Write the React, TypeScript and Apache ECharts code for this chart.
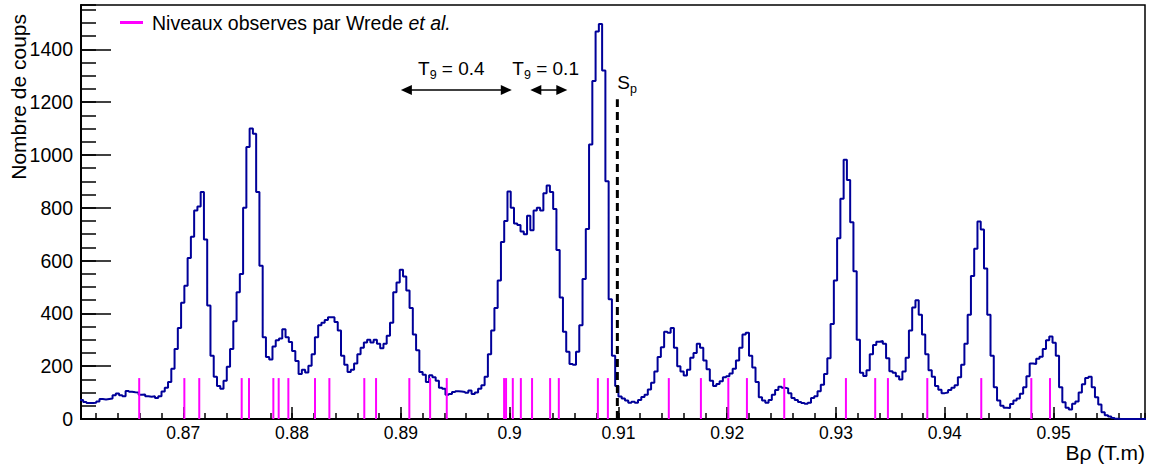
import React, { useEffect, useRef } from "react";
import * as echarts from "echarts";

// ---- data -----------------------------------------------------------
const BIN_START = 0.8605;
const BIN_WIDTH = 0.0003;
const COUNTS = [
  72, 64, 61, 61, 62, 66, 76, 74, 76, 78,
  90, 97, 90, 86, 106, 103, 101, 100, 92, 93,
  86, 84, 86, 80, 86, 104, 118, 140, 190, 265,
  345, 440, 505, 610, 690, 790, 805, 860, 680, 430,
  240, 160, 125, 115, 145, 198, 265, 370, 480, 549,
  800, 1030, 1100, 1080, 860, 580, 310, 235, 225, 275,
  298, 305, 340, 310, 292, 258, 220, 170, 187, 176,
  202, 245, 310, 355, 365, 375, 385, 385, 367, 335,
  240, 205, 178, 187, 210, 245, 270, 290, 300, 290,
  300, 285, 268, 285, 315, 365, 480, 517, 565, 540,
  487, 420, 320, 260, 178, 168, 140, 166, 158, 145,
  118, 115, 92, 95, 102, 105, 104, 102, 99, 108,
  95, 100, 115, 128, 160, 245, 335, 420, 525, 670,
  750, 862, 800, 740, 735, 710, 700, 770, 715, 790,
  800, 790, 855, 884, 860, 795, 640, 460, 330, 255,
  208, 205, 255, 355, 530, 720, 1040, 1280, 1468, 1496,
  1320, 900, 454, 240, 125, 85, 78, 70, 62, 65,
  62, 72, 83, 92, 112, 137, 180, 235, 272, 330,
  327, 345, 270, 200, 180, 165, 187, 232, 250, 285,
  270, 222, 188, 145, 125, 133, 143, 158, 162, 172,
  190, 222, 270, 320, 327, 240, 195, 140, 82, 70,
  62, 72, 92, 110, 122, 118, 116, 98, 80, 72,
  64, 61, 58, 62, 80, 86, 105, 130, 170, 230,
  360, 525, 685, 834, 982, 905, 745, 560, 300, 175,
  163, 185, 245, 280, 293, 295, 285, 230, 181, 175,
  162, 150, 180, 232, 335, 422, 450, 395, 320, 245,
  185, 160, 125, 111, 98, 100, 110, 118, 128, 158,
  205, 285, 395, 542, 645, 748, 718, 570, 395, 240,
  120, 70, 50, 43, 42, 57, 70, 78, 96, 120,
  162, 210, 208, 228, 236, 265, 298, 312, 289, 240,
  120, 63, 43, 36, 58, 66, 100, 132, 155, 160,
  120, 82, 55, 26, 14, 9, 4, 1, 0, 0,
  0, 0, 0, 0, 0, 0, 0,
];
const LEVELS = [
  0.86595, 0.8701, 0.87147, 0.87537, 0.87604, 0.87828, 0.87877, 0.87966,
  0.88211, 0.88343, 0.88664, 0.88772, 0.89078, 0.89269, 0.89422, 0.89949,
  0.89967, 0.90029, 0.90103, 0.90206, 0.90372, 0.90452, 0.90811, 0.90903,
  0.91463, 0.91758, 0.9201, 0.92181, 0.92524, 0.93091, 0.9336, 0.93477,
  0.93839, 0.94335, 0.94795, 0.94967,
];
const LEVEL_HEIGHT = 155;
const SP_X = 0.9099;
const SP_TOP = 1211;
const SP_LABEL_Y = 1276;
const ARROW_FROM = [0.89, 0.9019];
const ARROW_TO = [0.9002, 0.9053];
const ARROW_Y = 1246;
const T9_LABEL_X = [0.89464, 0.90331];
const T9_LABEL_Y = 1329;
const T9_VALUES = ["0.4", "0.1"];
const X_MIN = 0.8606;
const X_MAX = 0.9584;
const Y_MAX = 1568;
const X_TITLE = "B\u03c1 (T.m)";
const Y_TITLE = "Nombre de coups";
const LEGEND_TEXT = "Niveaux observes par Wrede ";
const LEGEND_ITALIC = "et al.";

// ---- styling ---------------------------------------------------------
const FONT = '"Liberation Sans", Arial, Helvetica, sans-serif';
const HIST_COLOR = "#000099";
const LEVEL_COLOR = "#ff00ff";
const ANNOT_SIZE = 19;
const SUB_SIZE = 12.5;

let measureCtx: CanvasRenderingContext2D | null = null;
function measure(text: string, size: number, style = "normal"): number {
  if (!measureCtx) {
    measureCtx = document.createElement("canvas").getContext("2d");
  }
  if (!measureCtx) return text.length * size * 0.55;
  measureCtx.font = `${style} ${size}px ${FONT}`;
  return measureCtx.measureText(text).width;
}

export default function App() {
  const ref = useRef<HTMLDivElement | null>(null);

  useEffect(() => {
    if (!ref.current) return;
    const chart = echarts.init(ref.current, null, { renderer: "svg" });

    const histData: number[][] = COUNTS.map((c, i) => [
      +(BIN_START + i * BIN_WIDTH).toFixed(6),
      c,
    ]);
    histData.push([
      +(BIN_START + COUNTS.length * BIN_WIDTH).toFixed(6),
      COUNTS[COUNTS.length - 1],
    ]);

    const option: any = {
      animation: false,
      backgroundColor: "#fff",
      grid: {
        left: 81,
        right: 5,
        top: 5,
        bottom: 47,
        show: true,
        borderColor: "#000",
        borderWidth: 1.5,
        backgroundColor: "transparent",
      },
      xAxis: [
        {
          type: "value",
          min: X_MIN,
          max: X_MAX,
          splitNumber: 10,
          position: "bottom",
          axisLine: { show: true, onZero: false, lineStyle: { color: "#000", width: 2 } },
          axisTick: { show: true, inside: true, length: 12, lineStyle: { color: "#000", width: 1.5 } },
          axisLabel: {
            color: "#000",
            fontFamily: FONT,
            fontSize: 17.5,
            margin: 5,
            showMinLabel: false,
            showMaxLabel: false,
            formatter: (v: number) => parseFloat(v.toFixed(4)).toString(),
          },
          splitLine: { show: false },
        },
        {
          type: "value",
          min: X_MIN,
          max: X_MAX,
          splitNumber: 50,
          position: "bottom",
          axisLine: { show: false, onZero: false },
          axisTick: { show: true, inside: true, length: 6, lineStyle: { color: "#000", width: 1.5 } },
          axisLabel: { show: false },
          splitLine: { show: false },
        },
      ],
      yAxis: [
        {
          type: "value",
          min: 0,
          max: Y_MAX,
          interval: 200,
          position: "left",
          axisLine: { show: true, onZero: false, lineStyle: { color: "#000", width: 2 } },
          axisTick: { show: true, inside: true, length: 30, lineStyle: { color: "#000", width: 1.5 } },
          axisLabel: {
            color: "#000",
            fontFamily: FONT,
            fontSize: 19.5,
            margin: 8,
            showMaxLabel: false,
            formatter: (v: number) => String(Math.round(v)),
          },
          splitLine: { show: false },
        },
        {
          type: "value",
          min: 0,
          max: Y_MAX,
          interval: 50,
          position: "left",
          axisLine: { show: false, onZero: false },
          axisTick: { show: true, inside: true, length: 15, lineStyle: { color: "#000", width: 1.5 } },
          axisLabel: { show: false },
          splitLine: { show: false },
        },
      ],
      series: [
        {
          name: "hist",
          type: "line",
          xAxisIndex: 0,
          yAxisIndex: 0,
          data: histData,
          step: "end",
          showSymbol: false,
          symbol: "none",
          silent: true,
          z: 2,
          lineStyle: { color: HIST_COLOR, width: 2 },
        },
        {
          name: "levels",
          type: "custom",
          xAxisIndex: 0,
          yAxisIndex: 0,
          z: 3,
          silent: true,
          data: LEVELS.map((x) => [x, LEVEL_HEIGHT]),
          renderItem: (params: any, api: any) => {
            const p0 = api.coord([api.value(0), 0]);
            const p1 = api.coord([api.value(0), api.value(1)]);
            return {
              type: "line",
              shape: { x1: p0[0], y1: p0[1], x2: p1[0], y2: p1[1] },
              style: { stroke: LEVEL_COLOR, lineWidth: 2 },
            };
          },
        },
        {
          name: "sp",
          type: "custom",
          xAxisIndex: 0,
          yAxisIndex: 0,
          z: 4,
          silent: true,
          data: [[SP_X, SP_TOP, SP_LABEL_Y]],
          renderItem: (params: any, api: any) => {
            const p0 = api.coord([api.value(0), 0]);
            const p1 = api.coord([api.value(0), api.value(1)]);
            const pl = api.coord([api.value(0), api.value(2)]);
            const wS = measure("S", ANNOT_SIZE);
            return {
              type: "group",
              children: [
                {
                  type: "line",
                  shape: { x1: p0[0], y1: p0[1], x2: p1[0], y2: p1[1] },
                  style: { stroke: "#000", lineWidth: 3, lineDash: [8, 5] },
                },
                {
                  type: "text",
                  x: pl[0],
                  y: pl[1],
                  style: {
                    text: "S",
                    fontFamily: FONT,
                    fontSize: ANNOT_SIZE,
                    fill: "#000",
                    align: "left",
                    verticalAlign: "middle",
                  },
                },
                {
                  type: "text",
                  x: pl[0] + wS,
                  y: pl[1] + 7,
                  style: {
                    text: "p",
                    fontFamily: FONT,
                    fontSize: SUB_SIZE,
                    fill: "#000",
                    align: "left",
                    verticalAlign: "middle",
                  },
                },
              ],
            };
          },
        },
        {
          name: "arrows",
          type: "custom",
          xAxisIndex: 0,
          yAxisIndex: 0,
          z: 4,
          silent: true,
          data: ARROW_FROM.map((x, i) => [x, ARROW_TO[i], ARROW_Y]),
          renderItem: (params: any, api: any) => {
            const a = api.coord([api.value(0), api.value(2)]);
            const b = api.coord([api.value(1), api.value(2)]);
            const hl = 11;
            const hw = 5;
            const y = a[1];
            return {
              type: "group",
              children: [
                {
                  type: "line",
                  shape: { x1: a[0] + hl - 1, y1: y, x2: b[0] - hl + 1, y2: y },
                  style: { stroke: "#000", lineWidth: 1.5 },
                },
                {
                  type: "polygon",
                  shape: { points: [[a[0], y], [a[0] + hl, y - hw], [a[0] + hl, y + hw]] },
                  style: { fill: "#000" },
                },
                {
                  type: "polygon",
                  shape: { points: [[b[0], y], [b[0] - hl, y - hw], [b[0] - hl, y + hw]] },
                  style: { fill: "#000" },
                },
              ],
            };
          },
        },
        {
          name: "t9labels",
          type: "custom",
          xAxisIndex: 0,
          yAxisIndex: 0,
          z: 4,
          silent: true,
          data: T9_LABEL_X.map((x) => [x, T9_LABEL_Y]),
          renderItem: (params: any, api: any) => {
            const p = api.coord([api.value(0), api.value(1)]);
            const rest = " = " + T9_VALUES[params.dataIndex];
            const wT = measure("T", ANNOT_SIZE);
            const w9 = measure("9", SUB_SIZE);
            const wR = measure(rest, ANNOT_SIZE);
            const x0 = p[0] - (wT + w9 + wR) / 2;
            const base = { fontFamily: FONT, fill: "#000", align: "left", verticalAlign: "middle" };
            return {
              type: "group",
              children: [
                { type: "text", x: x0, y: p[1], style: { ...base, text: "T", fontSize: ANNOT_SIZE } },
                { type: "text", x: x0 + wT, y: p[1] + 7, style: { ...base, text: "9", fontSize: SUB_SIZE } },
                { type: "text", x: x0 + wT + w9, y: p[1], style: { ...base, text: rest, fontSize: ANNOT_SIZE } },
              ],
            };
          },
        },
      ],
      graphic: [
        {
          type: "line",
          shape: { x1: 120, y1: 22.5, x2: 143, y2: 22.5 },
          style: { stroke: LEVEL_COLOR, lineWidth: 3 },
          silent: true,
        },
        {
          type: "text",
          x: 152,
          y: 22.5,
          silent: true,
          style: {
            text: `{n|${LEGEND_TEXT}}{i|${LEGEND_ITALIC}}`,
            rich: {
              n: { fontFamily: FONT, fontSize: 19.5, fill: "#000" },
              i: { fontFamily: FONT, fontSize: 19.5, fontStyle: "italic", fill: "#000" },
            },
            align: "left",
            verticalAlign: "middle",
          },
        },
        {
          type: "text",
          x: 1145,
          y: 452,
          silent: true,
          style: {
            text: X_TITLE,
            fontFamily: FONT,
            fontSize: 21,
            fill: "#000",
            align: "right",
            verticalAlign: "middle",
          },
        },
        {
          type: "text",
          x: 18,
          y: 14,
          rotation: Math.PI / 2,
          silent: true,
          style: {
            text: Y_TITLE,
            fontFamily: FONT,
            fontSize: 21,
            fill: "#000",
            align: "right",
            verticalAlign: "middle",
          },
        },
      ],
    };

    chart.setOption(option);
    return () => {
      chart.dispose();
    };
  }, []);

  return (
    <div
      ref={ref}
      style={{
        position: "fixed",
        left: 0,
        top: 0,
        width: 1150,
        height: 466,
        background: "#fff",
      }}
    />
  );
}
